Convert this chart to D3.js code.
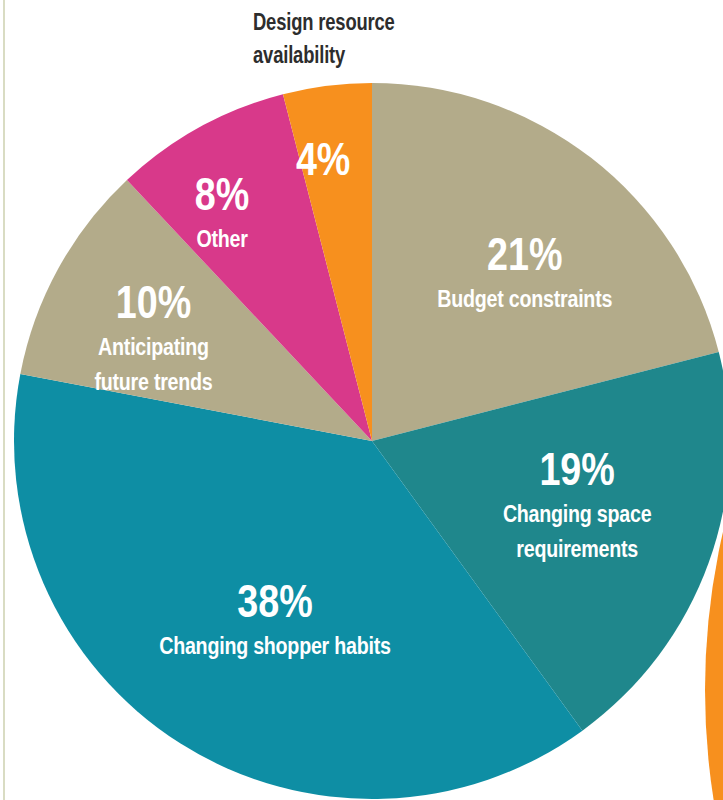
<!DOCTYPE html>
<html>
<head>
<meta charset="utf-8">
<script src="https://cdn.jsdelivr.net/npm/d3@7"></script>
<style>
  body { margin: 0; background: #fff; }
  svg { display: block; }
  text { font-family: "Liberation Sans", Arial, sans-serif; font-weight: bold; }
</style>
</head>
<body>
<svg id="chart" width="723" height="800"></svg>
<script>
// slices, clockwise from 12 o'clock
var categories = ["Budget constraints", "Changing space requirements", "Changing shopper habits",
                  "Anticipating future trends", "Other", "Design resource availability"];
var values = [21, 19, 38, 10, 8, 4];
var colors = ["#b3ab8a", "#1f878c", "#0e8ea4", "#b3ab8a", "#d8398a", "#f7901e"];

// label lines for each slice (the last one sits outside the pie, as a title)
var labelLines = [["Budget constraints"], ["Changing space", "requirements"], ["Changing shopper habits"],
                  ["Anticipating", "future trends"], ["Other"], []];
// where each label block sits: angle (deg, clockwise from top) and fraction of radius
var labelPos = [[41.8, 0.64], [102.1, 0.586], [208.9, 0.561], [299.3, 0.70], [327, 0.769], [349.6, 0.756]];

var svg = d3.select("#chart");
var cx = 372, cy = 441, radius = 358;
var squeeze = 0.82;   // the print font is a condensed face

// faint page rule on the left
svg.append("line")
    .attr("x1", 4).attr("x2", 4)
    .attr("y1", 0).attr("y2", 800)
    .style("stroke", "#d9dcc3")
    .style("stroke-width", 2);

// edge of the neighbouring orange circle
svg.append("circle")
    .attr("cx", 1410).attr("cy", 690)
    .attr("r", 705)
    .style("fill", "#f7901e");

var pie = d3.pie().sort(null).value(d => d);
var arc = d3.arc().innerRadius(0).outerRadius(radius);

var g = svg.append("g").attr("transform", "translate(" + cx + "," + cy + ")");

var arcs = pie(values);

g.selectAll("path")
    .data(arcs)
    .enter()
    .append("path")
    .attr("d", arc)
    .style("fill", (d, i) => colors[i]);

for (var i = 0; i < arcs.length; i++) {
    var a = labelPos[i][0] * Math.PI / 180;
    var r = labelPos[i][1] * radius;
    var x = r * Math.sin(a);
    var y = -r * Math.cos(a);

    var lbl = g.append("g")
        .attr("transform", "translate(" + x + "," + y + ") scale(" + squeeze + ",1)")
        .append("text")
        .attr("text-anchor", "middle")
        .style("fill", "#fff");

    lbl.append("tspan")
        .attr("x", 0)
        .style("font-size", "46px")
        .text(values[i] + "%");

    labelLines[i].forEach(function (line, k) {
        lbl.append("tspan")
            .attr("x", 0)
            .attr("dy", k == 0 ? 37 : 35)
            .style("font-size", "24px")
            .style("letter-spacing", "-0.3px")
            .text(line);
    });
}

// title of the small orange slice, above the pie
var title = svg.append("g")
    .attr("transform", "translate(253,30) scale(0.8,1)")
    .append("text")
    .style("fill", "#2d2d2d")
    .style("font-size", "23px")
    .style("letter-spacing", "-0.2px");
title.append("tspan").attr("x", 0).text("Design resource");
title.append("tspan").attr("x", 0).attr("dy", 33).text("availability");
</script>
</body>
</html>
